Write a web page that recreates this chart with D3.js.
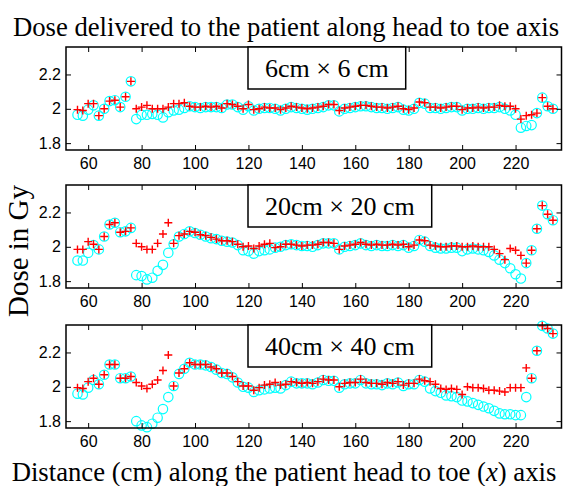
<!DOCTYPE html>
<html>
<head>
<meta charset="utf-8">
<script src="https://cdn.jsdelivr.net/npm/d3@7"></script>
<style>
  body { margin: 0; background: #fff; }
  svg { display: block; }
</style>
</head>
<body>
<svg id="chart"></svg>
<script>
// Distance along the head to toe axis (cm)
const distance = [56, 58, 60, 62, 64, 66, 68, 70, 72, 74, 76, 78, 80, 82, 84, 86, 88, 90, 92, 94,
  96, 98, 100, 102, 104, 106, 108, 110, 112, 114, 116, 118, 120, 122, 124, 126, 128, 130, 132, 134,
  136, 138, 140, 142, 144, 146, 148, 150, 152, 154, 156, 158, 160, 162, 164, 166, 168, 170, 172, 174,
  176, 178, 180, 182, 184, 186, 188, 190, 192, 194, 196, 198, 200, 202, 204, 206, 208, 210, 212, 214,
  216, 218, 220, 222, 224, 226, 228, 230, 232, 234];

// 6cm x 6cm field: red plus / cyan circle series
const plus6 = [1.995, 1.99, 2.03, 2.03, 1.96, 2.0, 2.045, 2.05, 2.01, 2.07, 2.16, 2.0, 2.01, 2.02, 2.0, 2.0, 2.0, 2.01, 2.03, 2.03,
  2.035, 2.015, 2.01, 2.01, 2.015, 2.01, 2.015, 2.005, 2.03, 2.025, 2.015, 2.0, 2.025, 1.995, 2.0, 2.01, 2.005, 2.005, 1.995, 2.005,
  2.015, 2.01, 2.005, 2.0, 2.005, 2.01, 2.015, 2.025, 2.025, 1.99, 2.005, 2.01, 2.015, 2.02, 2.02, 2.015, 2.01, 2.01, 2.005, 2.01,
  2.015, 2.0, 1.995, 2.005, 2.04, 2.035, 2.01, 2.01, 2.005, 2.01, 2.015, 2.015, 1.995, 2.005, 2.005, 2.01, 2.005, 2.01, 2.01, 2.02,
  2.015, 2.015, 2.0, 1.94, 1.96, 1.965, 1.975, 2.065, 2.015, 2.0];
const circle6 = [1.965, 1.96, 1.995, 2.02, 1.96, 2.0, 2.045, 2.05, 2.01, 2.07, 2.16, 1.94, 1.965, 1.965, 1.97, 1.965, 1.95, 1.98, 1.99, 1.995,
  2.005, 2.015, 2.01, 2.005, 2.01, 2.01, 2.01, 2.005, 2.025, 2.025, 2.01, 1.995, 2.015, 1.99, 2.0, 2.005, 2.005, 2.0, 1.99, 2.0,
  2.01, 2.005, 2.0, 1.995, 2.0, 2.005, 2.01, 2.02, 2.02, 1.985, 2.0, 2.005, 2.01, 2.015, 2.015, 2.01, 2.005, 2.005, 2.0, 2.005,
  2.01, 1.995, 1.99, 2.0, 2.035, 2.03, 2.005, 2.005, 2.0, 2.005, 2.01, 2.01, 1.99, 2.0, 2.0, 2.005, 2.0, 2.005, 2.005, 2.01,
  2.0, 1.99, 1.965, 1.89, 1.9, 1.905, 1.975, 2.065, 2.015, 2.0];

// 20cm x 20cm field
const plus20 = [1.985, 1.985, 2.03, 2.015, 1.985, 2.06, 2.13, 2.14, 2.085, 2.09, 2.11, 2.02, 2.0, 1.985, 1.985, 2.02, 2.075, 2.14, 2.02, 2.065,
  2.075, 2.09, 2.085, 2.07, 2.065, 2.055, 2.045, 2.035, 2.035, 2.03, 2.015, 2.0, 2.005, 1.99, 2.005, 2.015, 2.02, 1.995, 2.0, 2.015,
  2.015, 2.01, 2.005, 2.01, 2.01, 2.015, 2.025, 2.025, 2.02, 1.985, 2.005, 2.01, 2.015, 2.025, 2.015, 2.01, 2.015, 2.01, 2.01, 2.015,
  2.01, 2.015, 2.0, 2.01, 2.04, 2.035, 2.01, 2.005, 2.0, 2.0, 2.005, 2.005, 2.0, 2.0, 2.005, 2.0, 2.0, 2.0, 1.985, 1.96,
  1.925, 1.99, 1.98, 1.95, 1.905, 1.98, 2.105, 2.24, 2.19, 2.155];
const circle20 = [1.92, 1.92, 1.965, 2.01, 1.985, 2.06, 2.13, 2.14, 2.085, 2.09, 2.11, 1.835, 1.83, 1.81, 1.82, 1.86, 1.895, 1.965, 2.015, 2.06,
  2.075, 2.09, 2.08, 2.07, 2.06, 2.05, 2.045, 2.035, 2.03, 2.025, 2.01, 1.98, 1.975, 1.96, 1.975, 1.98, 1.985, 1.995, 2.0, 2.01,
  2.015, 2.01, 2.005, 2.005, 2.0, 2.01, 2.02, 2.02, 2.02, 1.985, 2.0, 2.005, 2.01, 2.02, 2.01, 2.005, 2.01, 2.005, 2.005, 2.01,
  2.005, 2.01, 1.995, 2.005, 2.04, 2.03, 2.005, 1.995, 1.99, 1.99, 1.995, 1.995, 1.975, 1.985, 1.99, 1.985, 1.98, 1.97, 1.95, 1.925,
  1.905, 1.875, 1.84, 1.815, 1.905, 1.98, 2.105, 2.24, 2.19, 2.155];

// 40cm x 40cm field
const plus40 = [1.995, 1.99, 2.03, 2.05, 2.015, 2.07, 2.13, 2.13, 2.05, 2.05, 2.06, 2.025, 2.005, 1.99, 2.015, 2.04, 2.095, 2.185, 2.005, 2.08,
  2.105, 2.14, 2.13, 2.13, 2.13, 2.115, 2.105, 2.08, 2.08, 2.06, 2.03, 2.005, 2.005, 1.98, 1.995, 2.01, 2.015, 2.025, 2.01, 2.015,
  2.03, 2.025, 2.02, 2.025, 2.02, 2.03, 2.045, 2.04, 2.04, 2.0, 2.02, 2.025, 2.025, 2.045, 2.025, 2.02, 2.02, 2.015, 2.025, 2.02,
  2.03, 2.01, 2.02, 2.02, 2.045, 2.035, 2.03, 2.015, 1.99, 1.985, 1.99, 1.985, 1.955, 2.0, 1.995, 1.995, 1.99, 1.98, 1.98, 1.975,
  1.97, 1.995, 1.995, 1.995, 2.11, 2.05, 2.21, 2.355, 2.34, 2.31];
const circle40 = [1.96, 1.955, 1.995, 2.04, 2.015, 2.07, 2.13, 2.13, 2.05, 2.05, 2.06, 1.8, 1.775, 1.765, 1.785, 1.82, 1.87, 1.94, 2.005, 2.075,
  2.105, 2.14, 2.13, 2.13, 2.125, 2.115, 2.1, 2.08, 2.075, 2.055, 2.025, 2.0, 1.995, 1.97, 1.98, 1.985, 1.99, 1.995, 1.99, 2.01,
  2.03, 2.02, 2.02, 2.02, 2.015, 2.025, 2.04, 2.035, 2.035, 1.995, 2.015, 2.02, 2.02, 2.04, 2.02, 2.015, 2.015, 2.01, 2.02, 2.015,
  2.025, 2.005, 2.015, 2.015, 2.04, 2.03, 1.99, 1.975, 1.965, 1.95, 1.945, 1.94, 1.92, 1.915, 1.905, 1.895, 1.885, 1.875, 1.86, 1.845,
  1.84, 1.84, 1.835, 1.835, 1.94, 2.05, 2.21, 2.355, 2.34, 2.31];

const xTicks = [60, 80, 100, 120, 140, 160, 180, 200, 220];
const yTicks = [1.8, 2, 2.2];
const fieldLabels = ["6cm \u00d7 6 cm", "20cm \u00d7 20 cm", "40cm \u00d7 40 cm"];

const panels = [
  { label: fieldLabels[0], plus: plus6, circle: circle6, top: 47 },
  { label: fieldLabels[1], plus: plus20, circle: circle20, top: 185 },
  { label: fieldLabels[2], plus: plus40, circle: circle40, top: 325 }
];

const W = 563, H = 486;
const left = 66, right = 561.5, panelH = 103;
const serif = "'Liberation Serif', 'Times New Roman', serif";
const sans = "'Liberation Sans', Arial, sans-serif";

const svg = d3.select("#chart").attr("width", W).attr("height", H);

const x = d3.scaleLinear().domain([51.7, 237.2]).range([left, right]);

panels.forEach((p) => {
  const y = d3.scaleLinear().domain([1.76, 2.36]).range([p.top + panelH, p.top]);
  const g = svg.append("g");

  // circles first, plus markers on top
  g.selectAll(".circ")
    .data(distance)
    .enter()
    .append("circle")
    .attr("cx", (d) => x(d))
    .attr("cy", (d, i) => y(p.circle[i]))
    .attr("r", 4.7)
    .attr("fill", "none")
    .attr("stroke", "#00ffff")
    .attr("stroke-width", 1.2);

  g.selectAll(".plus")
    .data(distance)
    .enter()
    .append("path")
    .attr("transform", (d, i) => `translate(${x(d)},${y(p.plus[i])})`)
    .attr("d", "M-4,0H4M0,-4V4")
    .attr("stroke", "#ff0000")
    .attr("stroke-width", 1.4);

  // axes with inward ticks on all four sides
  g.append("g")
    .attr("transform", `translate(0,${p.top + panelH})`)
    .call(d3.axisBottom(x).tickValues(xTicks).tickSizeInner(-5).tickSizeOuter(0).tickPadding(8));
  g.append("g")
    .attr("transform", `translate(0,${p.top})`)
    .call(d3.axisTop(x).tickValues(xTicks).tickSizeInner(-5).tickSizeOuter(0).tickFormat(""));
  g.append("g")
    .attr("transform", `translate(${left},0)`)
    .call(d3.axisLeft(y).tickValues(yTicks).tickSizeInner(-5).tickSizeOuter(0).tickPadding(5).tickFormat(d3.format("~g")));
  g.append("g")
    .attr("transform", `translate(${right},0)`)
    .call(d3.axisRight(y).tickValues(yTicks).tickSizeInner(-5).tickSizeOuter(0).tickFormat(""));

  g.selectAll(".domain").remove();
  g.selectAll(".tick line").attr("stroke", "#000").attr("stroke-width", 1);
  g.selectAll(".tick text")
    .attr("fill", "#000")
    .style("font-family", sans)
    .style("font-size", "16px");

  g.append("rect")
    .attr("x", left)
    .attr("y", p.top)
    .attr("width", right - left)
    .attr("height", panelH)
    .attr("fill", "none")
    .attr("stroke", "#000")
    .attr("stroke-width", 1.5);

  // legend box
  const lg = g.append("g");
  const box = lg.append("rect")
    .attr("x", 248)
    .attr("y", p.top)
    .attr("height", 42)
    .attr("fill", "#fff")
    .attr("stroke", "#000")
    .attr("stroke-width", 1.5);
  const txt = lg.append("text")
    .attr("x", 248 + 17)
    .attr("y", p.top + 30)
    .style("font-family", serif)
    .style("font-size", "26px")
    .text(p.label);
  box.attr("width", txt.node().getComputedTextLength() + 34);
});

// titles
svg.append("text")
  .attr("x", 286)
  .attr("y", 36)
  .attr("text-anchor", "middle")
  .style("font-family", serif)
  .style("font-size", "26.7px")
  .text("Dose delivered to the patient along head to toe axis");

svg.append("text")
  .attr("transform", "translate(28,251) rotate(-90)")
  .attr("text-anchor", "middle")
  .style("font-family", serif)
  .style("font-size", "29px")
  .text("Dose in Gy");

const xl = svg.append("text")
  .attr("x", 284)
  .attr("y", 481)
  .attr("text-anchor", "middle")
  .style("font-family", serif)
  .style("font-size", "26.7px");
xl.append("tspan").text("Distance (cm) along the patient head to toe (");
xl.append("tspan").style("font-style", "italic").text("x");
xl.append("tspan").text(") axis");
</script>
</body>
</html>
